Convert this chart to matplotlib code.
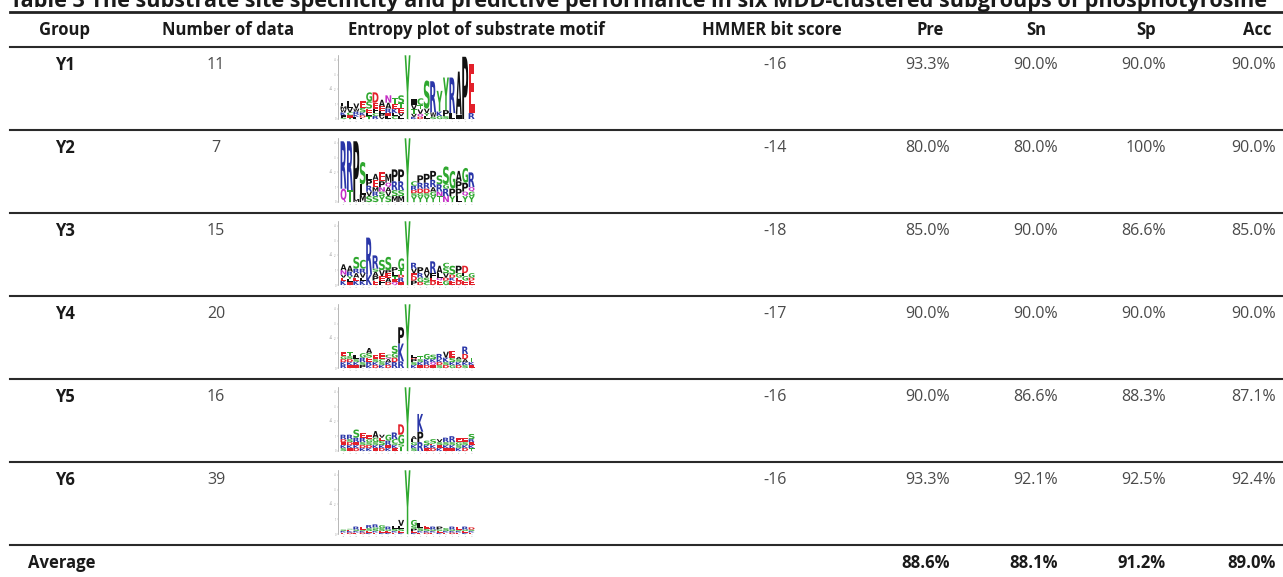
import matplotlib
matplotlib.use("Agg")
import matplotlib.pyplot as plt
from matplotlib.textpath import TextPath
from matplotlib.patches import PathPatch
from matplotlib.font_manager import FontProperties
from matplotlib.transforms import Affine2D

plt.rcParams['font.family'] = ['Open Sans', 'DejaVu Sans']

# Tabela: textos e valores
title = ("Table 3 The substrate site specificity and predictive performance "
         "in six MDD-clustered subgroups of phosphotyrosine")
headers = ["Group", "Number of data", "Entropy plot of substrate motif",
           "HMMER bit score", "Pre", "Sn", "Sp", "Acc"]
groups = ["Y1", "Y2", "Y3", "Y4", "Y5", "Y6"]
n_data = [11, 7, 15, 20, 16, 39]
hmmer = [-16, -14, -18, -17, -16, -16]
pre = [93.3, 80.0, 85.0, 90.0, 90.0, 93.3]
sn = [90.0, 80.0, 90.0, 90.0, 86.6, 92.1]
sp = [90.0, 100.0, 86.6, 90.0, 88.3, 92.5]
acc = [90.0, 90.0, 85.0, 90.0, 87.1, 92.4]
average = [88.6, 88.1, 91.2, 89.0]

# Logos: cada posicao = letras (de baixo para cima) + altura em bits
logo_y1 = ["S.1 F.15 K.2 W.2 M.2 L.25", "T.1 E.15 C.2 V.3 L.45", "L.15 K.15 R.2 W.2 V.35",
           "F.1 D.15 K.2 S.3 E.45", "T.2 L.2 E.3 S.5 G.6", "R.2 C.2 F.3 E.4 D.7",
           "V.15 P.2 L.2 E.3 A.45", "L.2 E.2 R.3 A.4 N.5", "C.2 L.2 K.3 E.3 T.45",
           "L.2 V.2 E.35 T.3 S.55", "Y4.3", "K.15 V.2 T.3 V.3 I.4", "D.15 Q.2 V.3 T.3 C.45",
           "L.2 Y.2 V.3 S1.9", "S.15 W.3 R2.1", "G.2 K.3 Y1.4", "S.2 P.4 Y2.2", "L.4 R2.4",
           "I.3 A2.9", "P4.2", "R.4 E3.3"]
logo_y2 = ["Q.9 R3.2", "T.8 R3.3", "M.2 P3.9", "M.5 L.7 S1.5", "S.4 V.3 R.4 P.4 L.4",
           "S.4 R.3 M.3 E.5 A.4", "Y.4 S.3 N.3 P.4 E.6", "S.4 V.3 A.3 Q.3 M.6",
           "M.4 S.4 R.6 P.8", "M.4 S.4 R.6 P.8", "Y4.3", "Y.4 S.2 D.2 R.3 C.3",
           "Y.4 G.2 D.3 R.4 P.5", "Y.4 S.2 D.3 R.4 P.6", "Y.4 G.3 A.3 R.5 P.6",
           "T.4 N.3 R.5 S.6", "N.4 R.5 G.3 S1.2", "Y.4 P.5 G1.2", "L.4 P.5 P.5 A.7",
           "Y.4 Q.3 P.6 G1.0", "Y.4 G.3 Q.3 R1.0"]
logo_y3 = ["K.3 E.2 V.2 N.3 A.4", "E.2 L.2 Y.2 R.3 A.4", "K.3 E.2 A.3 R.3 S.8",
           "K.3 L.2 V.3 R.3 C.6", "K.7 R2.5", "E.3 P.3 A.3 S.2 R.9", "F.3 E.3 V.4 S.7",
           "D.2 A.3 E.3 P.2 S.9", "Q.2 E.2 T.2 L.3 P.3", "E.2 R.3 D.2 T.3 G.8", "Y4.3",
           "P.3 D.3 E.2 V.3 R.4", "D.2 G.3 R.3 P.4", "C.2 S.3 V.3 A.4", "D.3 E.2 F.3 R.8",
           "E.3 Q.2 L.3 A.5", "G.3 D.2 V.3 S.4 C.3", "E.3 K.2 D.2 S.6", "D.3 E.2 G.3 P.5",
           "E.3 G.3 L.2 D.5", "E.3 D.2 G.3"]
logo_y4 = ["R.2 K.2 D.2 G.2 E.3", "E.2 K.2 D.2 S.2 T.3", "E.2 K.2 S.2 L.3",
           "P.2 S.2 R.3 G.3", "K.2 R.2 E.3 S.3 A.35", "D.2 K.2 S.2 E.25", "K.2 S.2 C.2 E.4",
           "D.2 K.2 A.2 Q.1 C.2", "R.4 D.3 G.3 S.5", "R.45 K1.2 P1.1", "Y4.3",
           "K.2 S.2 P.2 D.1 L.2", "E.2 K.2 S.2 T.2", "D.2 R.2 K.2 G.35", "E.2 Q.2 K.2 S.3",
           "S.2 D.2 K.2 R.35", "D.2 S.2 K.3 V.4", "G.2 K.2 S.3 E.45", "D.2 K.2 S.2 A.15",
           "S.2 K.2 A.2 D.35 R.5", "E.2 K.2 T.3"]
logo_y5 = ["S.2 K.2 E.2 D.2 R.3", "E.2 K.2 D.2 S.2 R.3", "D.2 K.2 E.2 R.3 S.55",
           "K.2 D.2 S.2 R.3 E.3", "K.2 D.2 S.2 G.2 E.3", "E.2 K.2 S.2 G.3 A.45",
           "D.2 K.2 S.3 E.2 V.2", "K.2 E.2 R.3 G.4", "E.2 K.2 S.1 C.3 R.45",
           "T.3 S.2 G.6 D.7", "Y4.3", "S.2 K.2 G.2 L.2 A.2", "R.6 P.7 K1.2", "E.2 K.2 S.3",
           "D.2 K.2 E.1 S.3", "K.2 E.2 S.2 V.2", "E.2 K.2 S.2 R.3", "E.2 K.2 S.2 R.4",
           "K.2 S.2 G.2 E.3", "D.2 K.2 S.2 E.25", "T.2 K.2 E.2 R.2 S.35"]
logo_y6 = ["E.1 K.1 S.1", "D.1 K.1 E.1 S.05", "E.1 K.1 S.1 R.2", "D.1 K.1 S.1 E.2",
           "K.1 E.1 S.2 R.2", "E.1 K.1 S.15 G.1 R.2", "K.1 E.1 S.2 G.2", "K.1 E.1 S.1 R.2",
           "E.1 K.1 S.15 L.2", "K.1 E.1 S.15 L.2 V.4", "Y4.3", "K.1 E.1 P.15 S.2 G.4",
           "E.1 K.1 S.2 L.35", "D.1 K.1 S.15 E.2", "E.1 K.1 S.1 R.2", "K.1 E.1 S.1 P.2",
           "E.1 K.1 S.2", "D.1 K.1 S.1 R.2", "E.1 K.1 S.1 E.2", "K.1 E.1 S.1 R.2",
           "E.1 K.1 S.1 D.15"]
logos = [logo_y1, logo_y2, logo_y3, logo_y4, logo_y5, logo_y6]

# cores do esquema de aminoacidos
cores = {}
for aa in "GSTYC":
    cores[aa] = "#2fa82f"
for aa in "KRH":
    cores[aa] = "#2a36a8"
for aa in "DE":
    cores[aa] = "#e3202a"
for aa in "NQ":
    cores[aa] = "#c52fc5"

W, H = 1283, 577
fp = FontProperties(family="DejaVu Sans", weight="bold")


def fmt(v):
    return "100%" if v >= 100 else f"{v:.1f}%"


def letra(ax, ch, x, y, h, w=0.92):
    tp = TextPath((0, 0), ch, size=1, prop=fp)
    bb = tp.get_extents()
    tr = (Affine2D().translate(-bb.x0, -bb.y0)
          .scale(w / bb.width, h / bb.height).translate(x - w / 2, y))
    ax.add_patch(PathPatch(tr.transform_path(tp), fc=cores.get(ch, "#111111"),
                           ec="none", lw=0))


def px_axes(fig, x0, y0, x1, y1):
    return fig.add_axes([x0 / W, 1 - y1 / H, (x1 - x0) / W, (y1 - y0) / H])


fig = plt.figure(figsize=(W / 100, H / 100), dpi=100)
ax = fig.add_axes([0, 0, 1, 1])
ax.set_xlim(0, W)
ax.set_ylim(H, 0)
ax.axis("off")

# layout (pixels)
row_top = [47 + 83 * i for i in range(7)]
head_x = [65, 228, 476, 772, 930, 1036, 1146, 1257]
val_right = [950, 1058, 1166, 1276]
txt = "#4a4a4a"

# titulo cortado no topo, como na imagem original
fig.text(10 / W, 1 - 7 / H, title, fontsize=15.6, fontweight="bold",
         color="#1a1a1a", va="baseline", ha="left")

ax.plot([10, W], [12, 12], color="#222222", lw=2.0)
for y in row_top:
    ax.plot([10, W], [y, y], color="#2a2a2a", lw=1.5)

for x, h in zip(head_x, headers):
    ax.text(x, 30, h, ha="center", va="center", fontsize=12, fontweight="bold", color="#1a1a1a")

for i, g in enumerate(groups):
    y = row_top[i] + 18
    ax.text(head_x[0], y, g, ha="center", va="center", fontsize=12, fontweight="bold", color="#1a1a1a")
    ax.text(216, y, str(n_data[i]), ha="center", va="center", fontsize=11.5, color=txt)
    ax.text(775, y, str(hmmer[i]), ha="center", va="center", fontsize=11.5, color=txt)
    for xr, serie in zip(val_right, [pre, sn, sp, acc]):
        ax.text(xr, y, fmt(serie[i]), ha="right", va="center", fontsize=11.5, color=txt)

ax.text(28, 563, "Average", ha="left", va="center", fontsize=12, fontweight="bold", color="#1a1a1a")
for xr, v in zip(val_right, average):
    ax.text(xr, 563, fmt(v), ha="right", va="center", fontsize=12, fontweight="bold", color="#1a1a1a")

# logos de entropia
for i, logo in enumerate(logos):
    la = px_axes(fig, 338, row_top[i] + 8, 478, row_top[i] + 72)
    la.set_xlim(-0.86, 21.0)
    la.set_ylim(0, 4.32)
    for pos, stack in enumerate(logo):
        base = 0.0
        for tok in stack.split():
            hgt = float(tok[1:])
            letra(la, tok[0], pos, base, hgt)
            base += hgt
    for s in ["top", "right", "bottom"]:
        la.spines[s].set_visible(False)
    la.spines["left"].set_color("#9a9a9a")
    la.spines["left"].set_linewidth(0.5)
    la.set_yticks(range(5))
    la.set_yticklabels([str(t) for t in range(5)], fontsize=2, color="#888888")
    la.set_xticks(range(21))
    la.set_xticklabels([str(t) for t in range(-10, 11)], fontsize=1.5, color="#888888")
    la.tick_params(length=1, width=0.3, pad=0.5, colors="#9a9a9a")
    la.set_ylabel("bits", fontsize=2, color="#888888", labelpad=0.5)
    la.patch.set_visible(False)

fig.savefig("out.png", dpi=100)
